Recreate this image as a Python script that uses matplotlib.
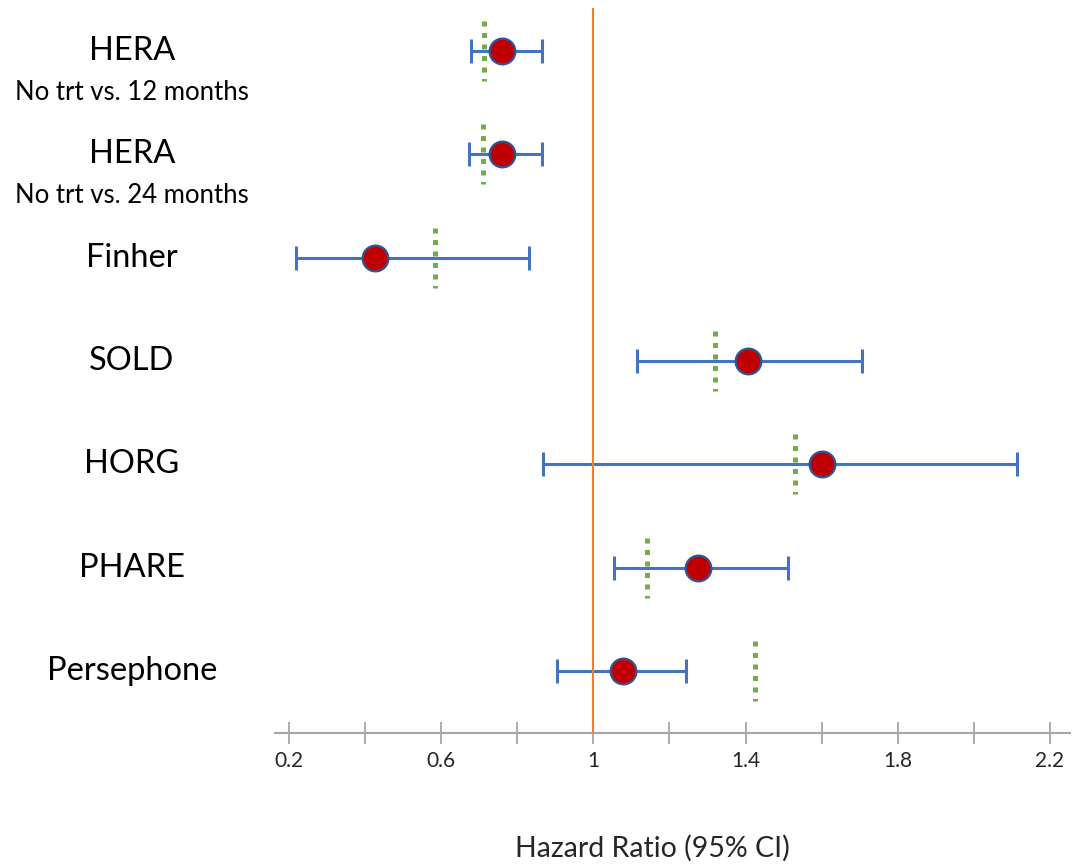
import matplotlib
matplotlib.use("Agg")
import matplotlib.pyplot as plt
import matplotlib.transforms as mtransforms
import numpy as np

plt.rcParams["font.family"] = ["Lato", "DejaVu Sans"]

# data
studies   = ["HERA", "HERA", "Finher", "SOLD", "HORG", "PHARE", "Persephone"]
subtitles = ["No trt vs. 12 months", "No trt vs. 24 months", "", "", "", "", ""]
hr        = [0.76, 0.76, 0.426, 1.406, 1.60, 1.275, 1.078]
ci_low    = [0.678, 0.673, 0.218, 1.115, 0.868, 1.054, 0.904]
ci_high   = [0.865, 0.865, 0.831, 1.706, 2.113, 1.511, 1.243]
green_ref = [0.712, 0.710, 0.584, 1.320, 1.530, 1.141, 1.425]

BLUE   = "#4472C4"
EDGE   = "#2F5597"
RED    = "#C00000"
GREEN  = "#70AD47"
ORANGE = "#ED7D31"
GRAY   = "#A6A6A6"

W, H = 1079, 868
fig = plt.figure(figsize=(W / 100, H / 100), dpi=100)
ax = fig.add_axes([275 / W, (H - 733) / H, 795 / W, 725 / H])

y = np.arange(len(studies))
hr = np.array(hr)
err = [hr - np.array(ci_low), np.array(ci_high) - hr]

ax.errorbar(hr, y, xerr=err, fmt="none", ecolor=BLUE, elinewidth=2.2,
            capsize=8.5, capthick=2.2, zorder=2)
ax.vlines(green_ref, y - 0.29, y + 0.29, colors=GREEN, linewidth=3.6,
          linestyles=(0, (1, 1.3)), zorder=3)
ax.axvline(1, color=ORANGE, linewidth=1.5, zorder=4)
ax.plot(hr, y, "o", ms=18.5, mfc=RED, mec=EDGE, mew=1.6, zorder=5)

ax.set_xlim(0.163, 2.253)
ax.set_ylim(6.6, -0.417)

for s in ["top", "right", "left"]:
    ax.spines[s].set_visible(False)
ax.spines["bottom"].set_color(GRAY)
ax.spines["bottom"].set_linewidth(1.5)
ax.set_yticks([])
ax.set_xticks(np.arange(0.2, 2.21, 0.2))
ax.set_xticklabels(["0.2", "", "0.6", "", "1", "", "1.4", "", "1.8", "", "2.2"])
ax.tick_params(axis="x", direction="inout", length=16, width=1.3, color=GRAY,
               labelsize=15, labelcolor="#262626", pad=5)

# study labels to the left of the axes
trans = mtransforms.blended_transform_factory(fig.transFigure, ax.transData)
for i, (name, sub) in enumerate(zip(studies, subtitles)):
    ax.text(132 / W, i, name, transform=trans, ha="center", va="center",
            fontsize=23.5, color="black")
    if sub:
        ax.text(132 / W, i + 0.4, sub, transform=trans, ha="center",
                va="center", fontsize=18.5, color="black")

fig.text(652 / W, 1 - 848 / H, "Hazard Ratio (95% CI)", ha="center",
         va="center", fontsize=20.5, color="#262626")

plt.savefig("out.png", dpi=100)
plt.close()
